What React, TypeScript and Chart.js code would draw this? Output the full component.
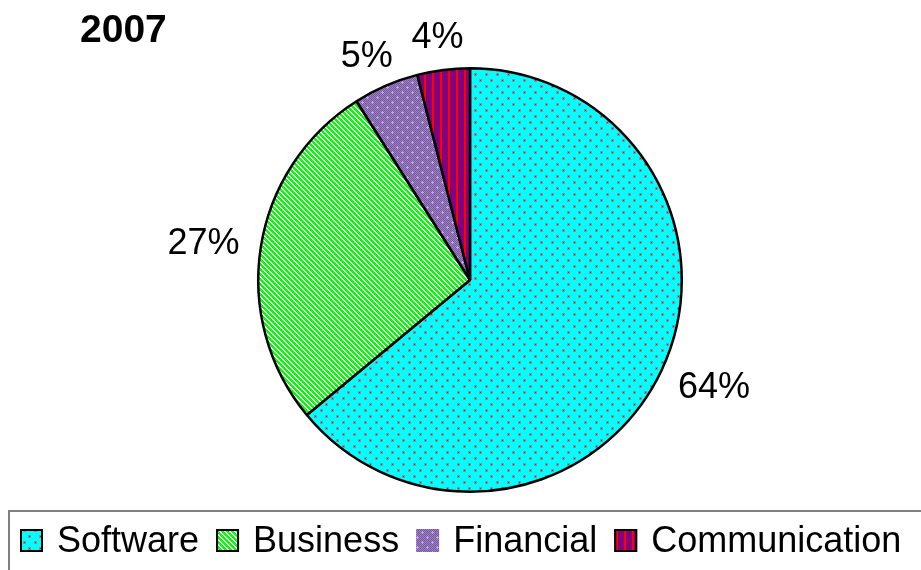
import React, { useEffect, useRef } from "react";
import { Chart, registerables } from "chart.js";

Chart.register(...registerables);

const chartTitle = "2007";
const categories = ["Software", "Business", "Financial", "Communication"];
const shares = [64, 27, 5, 4];
const shareLabels = ["64%", "27%", "5%", "4%"];
const legendBoxOutlined = [true, true, false, true];

const FONT = '"Liberation Sans", Arial, Helvetica, sans-serif';

function tile(w: number, h: number, draw: (c: CanvasRenderingContext2D) => void): CanvasPattern {
  const cv = document.createElement("canvas");
  cv.width = w;
  cv.height = h;
  const c = cv.getContext("2d")!;
  draw(c);
  const main = document.createElement("canvas").getContext("2d")!;
  return main.createPattern(cv, "repeat")!;
}

function softwarePattern() {
  return tile(11, 12, (c) => {
    c.fillStyle = "#00FFFF";
    c.fillRect(0, 0, 11, 12);
    const dots = [
      [2, 2],
      [7, 8],
    ];
    for (const [x, y] of dots) {
      c.fillStyle = "rgba(150,130,140,0.8)";
      c.fillRect(x - 1, y - 1, 3, 3);
      c.fillStyle = "#FF0000";
      c.fillRect(x, y, 1, 1);
    }
  });
}

function businessPattern() {
  return tile(5, 5, (c) => {
    for (let x = 0; x < 5; x++) {
      for (let y = 0; y < 5; y++) {
        c.fillStyle = ((x - y + 10) % 5) < 3 ? "#00FF00" : "#FFFFFF";
        c.fillRect(x, y, 1, 1);
      }
    }
  });
}

function financialPattern() {
  return tile(10, 10, (c) => {
    for (let x = 0; x < 10; x++) {
      for (let y = 0; y < 10; y++) {
        c.fillStyle = (x + y) % 2 === 0 ? "#755899" : "#9c82c2";
        c.fillRect(x, y, 1, 1);
      }
    }
    const pts = [
      [2, 2],
      [7, 7],
    ];
    c.fillStyle = "#c8a4ff";
    for (const [x, y] of pts) {
      c.fillRect(x - 1, y, 3, 1);
      c.fillRect(x, y - 1, 1, 3);
    }
  });
}

function communicationPattern() {
  return tile(8, 8, (c) => {
    c.fillStyle = "#800080";
    c.fillRect(0, 0, 8, 8);
    c.fillStyle = "#FF0000";
    c.fillRect(0, 0, 2, 8);
  });
}

const decorPlugin = {
  id: "decor",
  afterDatasetsDraw(chart: any) {
    const ctx: CanvasRenderingContext2D = chart.ctx;
    const meta = chart.getDatasetMeta(0);
    ctx.save();
    ctx.font = `36px ${FONT}`;
    ctx.fillStyle = "#000";
    ctx.textAlign = "center";
    ctx.textBaseline = "alphabetic";
    const capH = 36 * 0.716;
    meta.data.forEach((arc: any, i: number) => {
      const p = arc.getProps(["x", "y", "startAngle", "endAngle", "outerRadius"], true);
      const a = (p.startAngle + p.endAngle) / 2;
      const w = ctx.measureText(shareLabels[i]).width;
      const d = p.outerRadius + 22;
      const cx = p.x + Math.cos(a) * d + Math.cos(a) * (w / 2);
      const cy = p.y + Math.sin(a) * d + Math.sin(a) * (capH / 2);
      ctx.fillText(shareLabels[i], cx, cy + capH / 2);
    });
    ctx.restore();
  },
  afterDraw(chart: any) {
    const ctx: CanvasRenderingContext2D = chart.ctx;
    const bgs = chart.data.datasets[0].backgroundColor as CanvasPattern[];
    ctx.save();
    // title
    ctx.font = `bold 39px ${FONT}`;
    ctx.fillStyle = "#000";
    ctx.textAlign = "left";
    ctx.textBaseline = "alphabetic";
    ctx.fillText(chartTitle, 80, 42);

    // legend frame
    ctx.strokeStyle = "#808080";
    ctx.lineWidth = 2;
    ctx.strokeRect(9, 511, 940, 100);

    // legend items
    ctx.font = `36px ${FONT}`;
    let x = 20;
    const top = 529;
    const size = 23;
    categories.forEach((name, i) => {
      ctx.fillStyle = bgs[i];
      ctx.fillRect(x, top, size, size);
      if (legendBoxOutlined[i]) {
        ctx.strokeStyle = "#000";
        ctx.lineWidth = 2;
        ctx.strokeRect(x + 1, top + 1, size - 2, size - 2);
      }
      ctx.fillStyle = "#000";
      ctx.fillText(name, x + 37, top + size);
      x += 37 + ctx.measureText(name).width + 17;
    });
    ctx.restore();
  },
};

export default function App() {
  const ref = useRef<HTMLCanvasElement>(null);
  useEffect(() => {
    document.body.style.margin = "0";
    const canvas = ref.current!;
    const patterns = [softwarePattern(), businessPattern(), financialPattern(), communicationPattern()];
    const chart = new Chart(canvas, {
      type: "pie",
      data: {
        labels: categories,
        datasets: [
          {
            data: shares,
            backgroundColor: patterns as any,
            borderColor: "#000000",
            borderWidth: 2.5,
          },
        ],
      },
      options: {
        responsive: false,
        animation: false,
        devicePixelRatio: 1,
        layout: { padding: { top: 67, bottom: 77, left: 19, right: 0 } },
        plugins: {
          legend: { display: false },
          title: { display: false },
          tooltip: { enabled: false },
        },
      },
      plugins: [decorPlugin as any],
    });
    return () => chart.destroy();
  }, []);
  return <canvas ref={ref} width={921} height={570} style={{ display: "block" }} />;
}
